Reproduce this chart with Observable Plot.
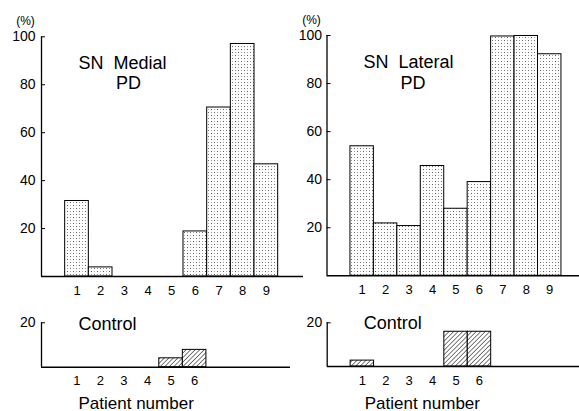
<!DOCTYPE html>
<html>
<head>
<meta charset="utf-8">
<script src="https://cdn.jsdelivr.net/npm/d3@7"></script>
<script src="https://cdn.jsdelivr.net/npm/@observablehq/plot@0.6"></script>
<style>
  html, body { margin: 0; padding: 0; background: white; }
  #chart { position: relative; width: 579px; height: 411px; background: white; overflow: hidden; }
  #chart svg.panel { position: absolute; }
</style>
</head>
<body>
<svg width="0" height="0" style="position:absolute">
  <defs>
    <pattern id="dots" width="6" height="6" patternUnits="userSpaceOnUse">
      <rect width="6" height="6" fill="white"/>
      <rect x="1" y="1" width="1" height="1" fill="#555"/>
      <rect x="4" y="4" width="1" height="1" fill="#666"/>
      <rect x="4" y="1" width="1" height="1" fill="#aaa"/>
      <rect x="1" y="4" width="1" height="1" fill="#999"/>
    </pattern>
    <pattern id="hatch" width="3.2" height="3.2" patternUnits="userSpaceOnUse" patternTransform="rotate(45)">
      <rect width="3.2" height="3.2" fill="white"/>
      <line x1="0" y1="0" x2="0" y2="3.2" stroke="#111" stroke-width="1.1"/>
    </pattern>
  </defs>
</svg>
<div id="chart"></div>
<script>
const FONT = "'Liberation Sans', Arial, Helvetica, sans-serif";

// Data
const patientsPD = [1, 2, 3, 4, 5, 6, 7, 8, 9];
const medialPD = [31.5, 3.8, 0, 0, 0, 18.8, 70.5, 97, 46.8];
const lateralPD = [53.9, 21.8, 20.7, 45.7, 27.9, 39, 99.6, 99.8, 92.2];
const patientsControl = [1, 2, 3, 4, 5, 6];
const medialControl = [0, 0, 0, 0, 4, 7.8];
const lateralControl = [2.7, 0, 0, 0, 15.9, 15.9];
const yTicksPD = [20, 40, 60, 80, 100];
const yTicksControl = [20];
const titleMedial = ["SN  Medial", "PD"];
const titleLateral = ["SN  Lateral", "PD"];
const controlLabel = "Control";
const xLabel = "Patient number";
const unitLabel = "(%)";

function panel(o) {
  const data = o.pts.map((p, i) => ({p, v: o.vals[i]})).filter(d => d.v > 0);
  const marks = [
    Plot.rect(data, {x1: d => d.p - 0.5, x2: d => d.p + 0.5, y1: 0, y2: "v",
      fill: o.fill, stroke: "black", strokeWidth: 1}),
    Plot.ruleY([0], {stroke: "black", strokeWidth: 1.4}),
    Plot.ruleX([-0.5], {y1: 0, y2: o.yMax, stroke: "black", strokeWidth: 1.3}),
    Plot.axisY({ticks: o.yTicks, tickSize: 0, tickPadding: o.yPad, fontSize: 14, label: null}),
    Plot.axisY({ticks: o.yTicks, tickSize: 4, dx: 4, tickFormat: () => "", label: null, strokeWidth: 1}),
    Plot.axisX({ticks: o.pts, tickSize: 0, tickPadding: 9, fontSize: 13, label: null})
  ];
  for (const t of o.texts) {
    marks.push(Plot.text([t.text], {text: d => d, frameAnchor: "top-left", dx: t.dx, dy: t.dy,
      textAnchor: t.anchor || "start", lineAnchor: t.line || "bottom", fontSize: t.size, fill: "black"}));
  }
  const svg = Plot.plot({
    width: o.width, height: o.height,
    marginLeft: o.ml, marginRight: 0, marginTop: o.mt, marginBottom: o.mb,
    x: {domain: [-0.5, o.xMax], axis: null},
    y: {domain: [0, o.yMax], axis: null},
    style: {fontFamily: FONT, background: "transparent", overflow: "visible", color: "black"},
    marks
  });
  svg.classList.add("panel");
  svg.style.left = o.left + "px";
  svg.style.top = o.top + "px";
  document.getElementById("chart").appendChild(svg);
}

// Top-left: SN Medial PD
panel({
  left: 0, top: 0, width: 303, height: 300, ml: 41, mt: 36.3, mb: 24, xMax: 10.57,
  pts: patientsPD, vals: medialPD, yMax: 100, yTicks: yTicksPD, yPad: 6, fill: "url(#dots)",
  texts: [
    {text: unitLabel, dx: -16, dy: -16, anchor: "middle", line: "middle", size: 12},
    {text: titleMedial[0], dx: 37, dy: 32, size: 18},
    {text: titleMedial[1], dx: 74.5, dy: 52, size: 18}
  ]
});

// Top-right: SN Lateral PD
panel({
  left: 290, top: 0, width: 289, height: 300, ml: 36.5, mt: 35, mb: 24.7, xMax: 10.27,
  pts: patientsPD, vals: lateralPD, yMax: 100, yTicks: yTicksPD, yPad: 5, fill: "url(#dots)",
  texts: [
    {text: unitLabel, dx: -15.5, dy: -15, anchor: "middle", line: "middle", size: 12},
    {text: titleLateral[0], dx: 36.5, dy: 32, size: 18},
    {text: titleLateral[1], dx: 73.5, dy: 53, size: 18}
  ]
});

// Bottom-left: Control (medial)
panel({
  left: 0, top: 300, width: 290, height: 111, ml: 41, mt: 22.3, mb: 44.3, xMax: 10.07,
  pts: patientsControl, vals: medialControl, yMax: 20, yTicks: yTicksControl, yPad: 6, fill: "url(#hatch)",
  texts: [
    {text: controlLabel, dx: 37, dy: 6.7, size: 18},
    {text: xLabel, dx: 37, dy: 85.7, size: 17}
  ]
});

// Bottom-right: Control (lateral)
panel({
  left: 290, top: 300, width: 289, height: 111, ml: 36.7, mt: 22.3, mb: 45, xMax: 10.27,
  pts: patientsControl, vals: lateralControl, yMax: 20, yTicks: yTicksControl, yPad: 5, fill: "url(#hatch)",
  texts: [
    {text: controlLabel, dx: 36.5, dy: 6, size: 18},
    {text: xLabel, dx: 37.5, dy: 85.7, size: 17}
  ]
});
</script>
</body>
</html>
